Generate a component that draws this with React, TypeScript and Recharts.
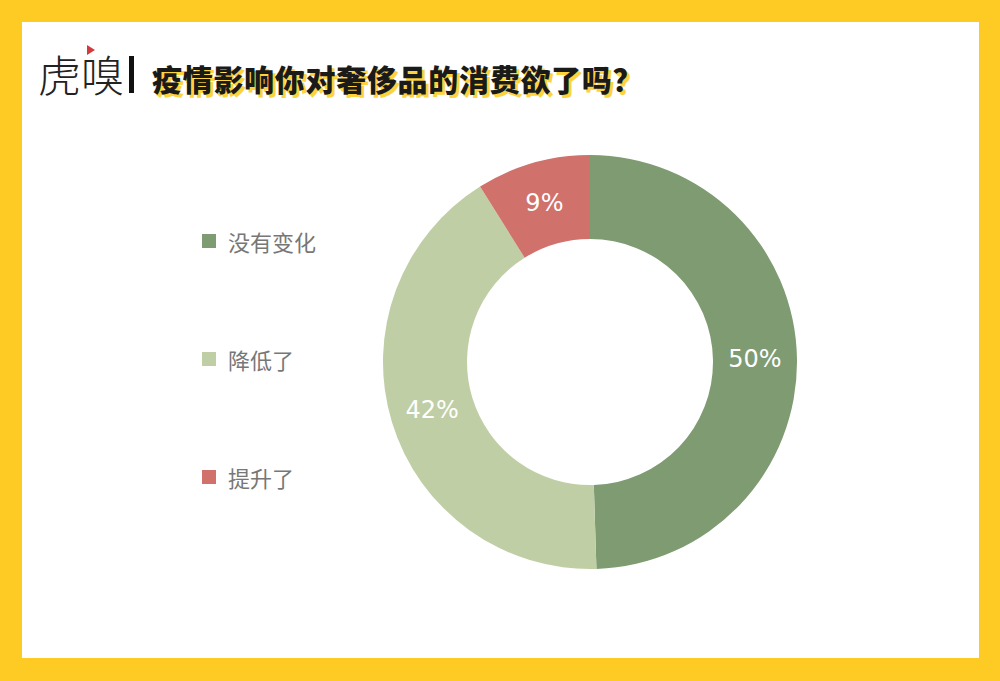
import React from "react"
import { PieChart, Pie, Cell, Legend } from "recharts"

const categories = ["没有变化", "降低了", "提升了"]
const shares = [50, 42, 9]
const colors = ["#7e9b72", "#c0cea5", "#d0716b"]

const data = categories.map((name, i) => ({ name, value: shares[i] }))

const RADIAN = Math.PI / 180

function renderLabel(props: any) {
  const { cx, cy, midAngle, innerRadius, outerRadius, value } = props
  const r = (innerRadius + outerRadius) / 2
  const x = cx + r * Math.cos(-midAngle * RADIAN)
  const y = cy + r * Math.sin(-midAngle * RADIAN)
  return (
    <text
      x={x}
      y={y}
      fill="#ffffff"
      textAnchor="middle"
      dominantBaseline="central"
      fontSize={24}
      fontFamily="'DejaVu Sans', sans-serif"
    >
      {`${value}%`}
    </text>
  )
}

function LegendList() {
  return (
    <div>
      {categories.map((name, i) => (
        <div
          key={name}
          style={{
            display: "flex",
            alignItems: "center",
            height: 30,
            marginBottom: i < categories.length - 1 ? 88 : 0,
          }}
        >
          <span style={{ width: 14, height: 14, background: colors[i], marginRight: 12 }} />
          <span style={{ fontSize: 22, color: "#777", fontFamily: "'Noto Sans CJK SC', sans-serif" }}>
            {name}
          </span>
        </div>
      ))}
    </div>
  )
}

export default function App() {
  return (
    <div
      style={{
        position: "fixed",
        left: 0,
        top: 0,
        width: 1000,
        height: 681,
        background: "#fdcb24",
        fontFamily: "'Noto Sans CJK SC', sans-serif",
      }}
    >
      <div style={{ position: "absolute", left: 22, top: 22, width: 957, height: 636, background: "#ffffff" }} />

      {/* header */}
      <div style={{ position: "absolute", left: 38, top: 45, fontSize: 43, lineHeight: "56px", color: "#222", fontWeight: 300 }}>
        虎嗅
      </div>
      <div
        style={{
          position: "absolute",
          left: 87,
          top: 45,
          width: 0,
          height: 0,
          borderTop: "5px solid transparent",
          borderBottom: "5px solid transparent",
          borderLeft: "8px solid #d23b3b",
        }}
      />
      <div style={{ position: "absolute", left: 129, top: 56, width: 5, height: 37, background: "#111" }} />
      <div
        style={{
          position: "absolute",
          left: 152,
          top: 56,
          fontSize: 30,
          lineHeight: "44px",
          fontWeight: 900,
          color: "#1a1a1a",
          textShadow: "3px 3px 0 #fdd23c",
          letterSpacing: 0.7,
          whiteSpace: "nowrap",
        }}
      >
        疫情影响你对奢侈品的消费欲了吗？
      </div>

      <div style={{ position: "absolute", left: 0, top: 0 }}>
        <PieChart width={1000} height={681}>
          <Pie
            data={data}
            dataKey="value"
            nameKey="name"
            cx={585}
            cy={357}
            innerRadius={123}
            outerRadius={207}
            startAngle={90}
            endAngle={-270}
            stroke="none"
            label={renderLabel}
            labelLine={false}
            isAnimationActive={false}
          >
            {data.map((d, i) => (
              <Cell key={d.name} fill={colors[i]} />
            ))}
          </Pie>
          <Legend
            layout="vertical"
            content={() => <LegendList />}
            wrapperStyle={{ position: "absolute", left: 202, top: 226, width: 200 }}
          />
        </PieChart>
      </div>
    </div>
  )
}
